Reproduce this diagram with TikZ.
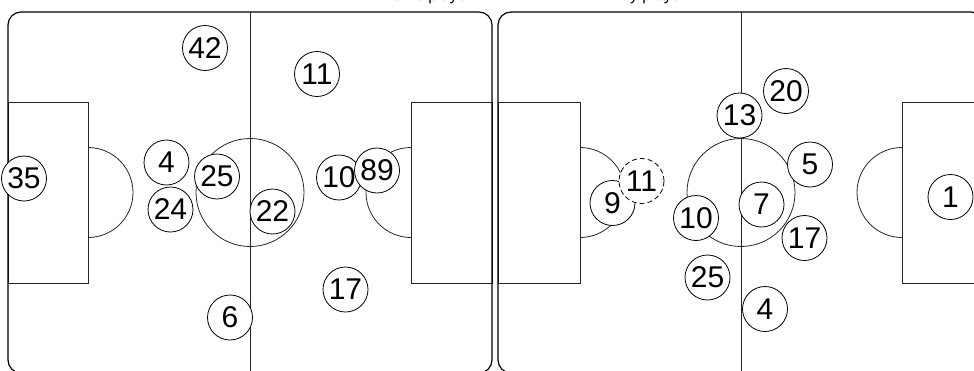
\documentclass[tikz,border=0pt]{standalone}
\usepackage{fontspec}
\setmainfont{Liberation Sans}
\begin{document}
\begin{tikzpicture}[x=1pt,y=-1pt,
  pitchline/.style={draw=black!85, line width=0.8pt},
  border/.style={draw=black, line width=1.2pt, rounded corners=13pt},
  penbox/.style={draw=black!85, line width=0.8pt, fill=white},
  player/.style={circle, draw=black, line width=0.8pt, fill=white, minimum size=45pt, inner sep=0pt, font=\fontsize{30}{30}\selectfont},
  subst/.style={player, dash pattern=on 5pt off 3pt},
  title/.style={anchor=base west, inner sep=0pt, font=\fontsize{16}{16}\selectfont}]
\useasboundingbox (0,0) rectangle (974,370);
% titles (mostly cropped above the page, as in the reference)
\node[title] (t1) at (381,0.8) {Home player};
\node[title] (t2) at (599,0.8) {Away player};
% ---------- left pitch ----------
\draw[pitchline] (88,192.5) circle[radius=45];
\draw[pitchline] (411,192.5) circle[radius=45];
\draw[penbox] (8,102) rectangle (88,283);
\draw[penbox] (411,102) rectangle (492,283);
\draw[pitchline] (250,192.5) circle[radius=54];
\draw[pitchline] (250,12) -- (250,373);
\draw[border] (8,12) rectangle (492,373);
% ---------- right pitch ----------
\draw[pitchline] (580,192.5) circle[radius=45];
\draw[pitchline] (902,192.5) circle[radius=45];
\draw[penbox] (498,102) rectangle (580,283);
\draw[penbox] (902,102) rectangle (984,283);
\draw[pitchline] (741,192.5) circle[radius=54];
\draw[pitchline] (741,12) -- (741,373);
\draw[border] (498,12) rectangle (984,373);
% ---------- left players ----------
\node[player] (l42) at (205,48) {42};
\node[player] (l11) at (317,74) {11};
\node[player] (l4) at (166.5,162.5) {4};
\node[player] (l25) at (217,176.5) {25};
\node[player] (l35) at (24,178.5) {35};
\node[player] (l24) at (170.5,209.5) {24};
\node[player] (l22) at (272.5,211.5) {22};
\node[player] (l10) at (339,177.5) {10};
\node[player] (l89) at (377,170.5) {89};
\node[player] (l17) at (345.5,289.5) {17};
\node[player] (l6) at (230,317.5) {6};
% ---------- right players ----------
\node[player] (r20) at (786,91) {20};
\node[player] (r13) at (739.5,115.5) {13};
\node[player] (r5) at (810,164.5) {5};
\node[player] (r9) at (612.5,203) {9};
\node[subst] (r11) at (641.5,181) {11};
\node[player] (r10) at (696,218) {10};
\node[player] (r7) at (761.5,204.5) {7};
\node[player] (r17) at (804.5,238) {17};
\node[player] (r25) at (707.5,277.5) {25};
\node[player] (r4) at (765,309) {4};
\node[player] (r1) at (950.5,197) {1};
\end{tikzpicture}
\end{document}
